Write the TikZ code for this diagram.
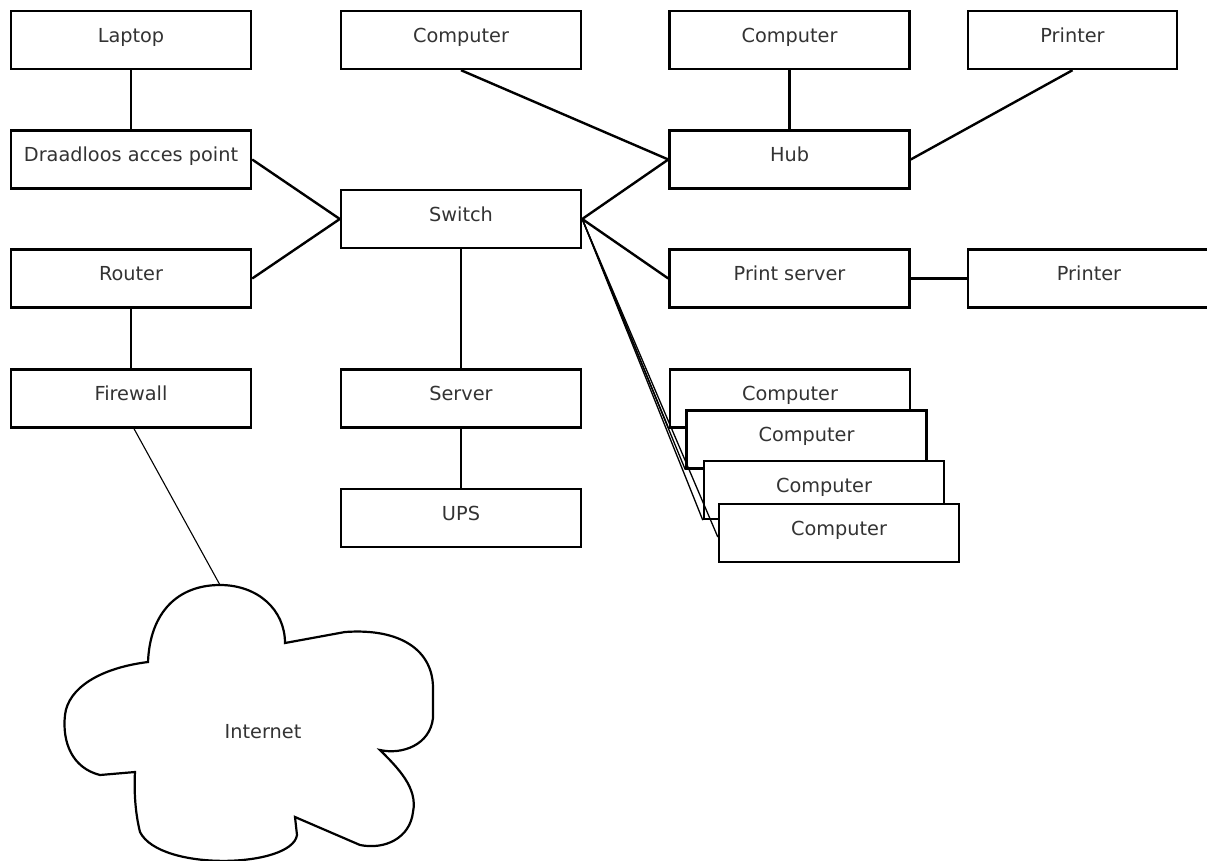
\documentclass[tikz,border=0pt]{standalone}
\usepackage{fontspec}
\setmainfont{DejaVu Sans}
\begin{document}
\begin{tikzpicture}[x=1pt,y=-1pt,
  netbox/.style={draw=black, fill=white, line width=2.4pt, minimum width=240pt, minimum height=58pt,
    inner sep=0pt, text height=12pt, text depth=8pt, font=\fontsize{19.3}{21}\selectfont, text=black!80},
  link/.style={draw=black, line width=2.4pt},
  thinlink/.style={draw=black, line width=1.1pt},
  stacklink/.style={draw=black, line width=1.3pt}]
\useasboundingbox (0,0) rectangle (1207,860);
% nodes
\node[netbox] (laptop) at (131,40) {Laptop};
\node[netbox] (draad) at (131,159.5) {Draadloos acces point};
\node[netbox] (router) at (131,278.5) {Router};
\node[netbox] (firewall) at (131,398.5) {Firewall};
\node[netbox] (comp1) at (461,40) {Computer};
\node[netbox] (switch) at (461,219) {Switch};
\node[netbox] (server) at (461,398.5) {Server};
\node[netbox] (ups) at (461,518) {UPS};
\node[netbox] (comp2) at (789.5,40) {Computer};
\node[netbox] (hub) at (789.5,159.5) {Hub};
\node[netbox] (ps) at (789.5,278.5) {Print server};
\node[netbox, minimum width=209pt] (printer1) at (1072.5,40) {Printer};
\node[netbox, minimum width=242pt] (printer2) at (1089,278.5) {Printer};
% connectors
\draw[link] (laptop) -- (draad);
\draw[link] (draad.east) -- (switch.west);
\draw[link] (router.east) -- (switch.west);
\draw[link] (router) -- (firewall);
\draw[link] (comp1.south) -- (hub.west);
\draw[link] (comp2) -- (hub);
\draw[link] (printer1.south) -- (hub.east);
\draw[link] (switch.east) -- (hub.west);
\draw[link] (switch.east) -- (ps.west);
\draw[link] (ps) -- (printer2);
\draw[link] (switch) -- (server);
\draw[link] (server) -- (ups);
% stacked computers
\node[netbox] (stack1) at (790,398.5) {Computer};
\node[netbox] (stack2) at (806.5,439.5) {Computer};
\node[netbox] (stack3) at (824,490) {Computer};
\node[netbox] (stack4) at (839,533) {Computer};
\draw[stacklink] (switch.east) -- (stack1.south west);
\draw[stacklink] (switch.east) -- (stack2.south west);
\draw[stacklink] (switch.east) -- (stack3.south west);
\draw[stacklink] (switch.east) -- ([yshift=-4pt]stack4.west);
% cloud
\coordinate (cloudtop) at (220,585);
\draw[line width=2.2pt, fill=white, line join=miter]
  (148,662) .. controls (150,612) and (178,585) .. (cloudtop)
  .. controls (258,585) and (285,610) .. (285,643)
  -- (345,632)
  .. controls (400,628) and (434,650) .. (433,690)
  -- (433,718)
  .. controls (430,745) and (402,755) .. (380,750)
  .. controls (398,768) and (418,788) .. (413,812)
  .. controls (410,838) and (385,850) .. (360,845)
  -- (295,817)
  -- (297,835)
  .. controls (292,868) and (160,872) .. (140,832)
  .. controls (135,812) and (134,790) .. (135,772)
  -- (100,775)
  .. controls (72,768) and (62,742) .. (65,715)
  .. controls (68,688) and (100,668) .. (148,662) -- cycle;
\node[font=\fontsize{19.3}{21}\selectfont, text=black!80] (internet) at (263,732) {Internet};
\draw[thinlink] ([xshift=3pt]firewall.south) -- (cloudtop);
\end{tikzpicture}
\end{document}
